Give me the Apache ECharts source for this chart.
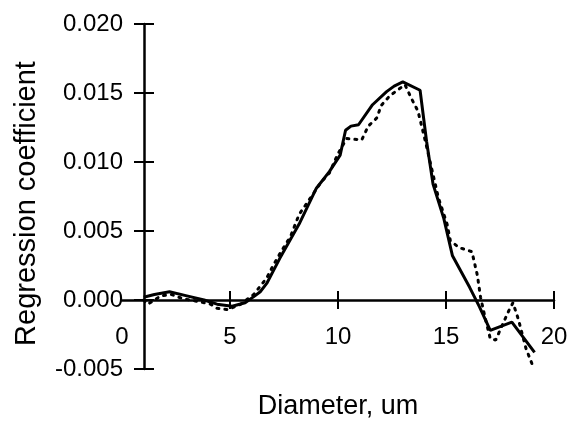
<!DOCTYPE html>
<html>
<head>
<meta charset="utf-8">
<script src="https://cdn.jsdelivr.net/npm/echarts@6/dist/echarts.min.js"></script>
<style>
    html, body { margin: 0; padding: 0; background: #fff; }
    #chart { width: 574px; height: 424px; }
</style>
</head>
<body>
<div id="chart"></div>
<script>
// diameter (um) / regression coefficient
const solidX = [1.0, 1.5, 2.2, 3.0, 3.8, 4.4, 5.1, 5.7, 6.15, 6.4, 6.7, 7.3, 8.2, 9.0, 9.6, 10.1, 10.35, 10.6, 10.95, 11.6, 12.25, 12.6, 13.0, 13.8, 14.1, 14.4, 14.9, 15.3, 16.1, 16.55, 17.05, 18.05, 19.1];
const solidY = [0.0002, 0.0004, 0.0006, 0.0003, 0.0, -0.0003, -0.00045, -0.0002, 0.0003, 0.0006, 0.0012, 0.003, 0.0055, 0.0081, 0.0093, 0.0105, 0.0123, 0.0126, 0.0127, 0.01415, 0.0151, 0.0155, 0.0158, 0.0152, 0.0115, 0.0084, 0.0059, 0.0032, 0.0009, -0.0005, -0.0022, -0.0016, -0.0038];

const dotX = [1.0, 1.2, 1.8, 2.3, 2.8, 3.5, 4.1, 4.4, 4.9, 5.5, 6.1, 6.3, 6.7, 7.0, 7.4, 7.8, 8.2, 8.55, 9.2, 9.6, 10.0, 10.4, 11.1, 11.4, 11.8, 12.0, 12.4, 13.1, 13.4, 13.7, 14.0, 14.65, 15.05, 15.2, 15.6, 16.2, 16.45, 16.6, 16.8, 17.05, 17.3, 17.9, 18.1, 18.35, 18.7, 19.0];
const dotY = [0.0, -0.0003, 0.0003, 0.0004, 0.0001, -0.0001, -0.0003, -0.0006, -0.0007, -0.0003, 0.0004, 0.0008, 0.0016, 0.0025, 0.0036, 0.0046, 0.0062, 0.007, 0.0085, 0.0092, 0.0106, 0.0117, 0.0116, 0.0126, 0.0132, 0.0141, 0.0148, 0.0156, 0.0146, 0.0137, 0.0118, 0.0074, 0.0055, 0.0043, 0.0038, 0.0035, 0.0018, 0.0002, -0.0012, -0.0028, -0.0029, -0.0008, -0.0002, -0.0014, -0.0035, -0.0047];

const xTicks = [5, 10, 15, 20];
const yMin = -0.005, yMax = 0.020, yStep = 0.005;

const font = "Liberation Sans";
const black = "#000";

const solidData = solidX.map((x, i) => [x, solidY[i]]);
const dotData = dotX.map((x, i) => [x, dotY[i]]);

const myChart = echarts.init(document.getElementById("chart"), null, { renderer: "canvas" });

const option = {
    animation: false,
    backgroundColor: "#fff",
    grid: { left: 122, right: 20, top: 24, bottom: 55, outerBoundsMode: "none" },
    xAxis: [
        {
            type: "value", min: 0, max: 20, interval: 5,
            axisLine: { show: true, onZero: true, lineStyle: { color: black, width: 2.5 } },
            axisTick: { show: true, length: 9, customValues: xTicks, lineStyle: { color: black, width: 2 } },
            // labels are measured from the grid bottom, so pull them up under the zero line
            axisLabel: { margin: -44, color: black, fontSize: 24, fontFamily: font },
            splitLine: { show: false },
            name: "Diameter, um",
            nameLocation: "middle",
            nameGap: 24,
            nameTextStyle: { color: black, fontSize: 27, fontFamily: font }
        },
        {
            // second copy only for the ticks on the inner side
            type: "value", min: 0, max: 20, interval: 5, position: "bottom",
            axisLine: { show: false, onZero: true, onZeroAxisIndex: 0 },
            axisTick: { show: true, inside: true, length: 9, customValues: xTicks, lineStyle: { color: black, width: 2 } },
            axisLabel: { show: false },
            splitLine: { show: false }
        }
    ],
    yAxis: [
        {
            type: "value", min: yMin, max: yMax, interval: yStep, position: "left", offset: -22,
            axisLine: { show: true, onZero: false, lineStyle: { color: black, width: 2.5 } },
            axisTick: { show: true, length: 10, lineStyle: { color: black, width: 2 } },
            axisLabel: {
                margin: 21, color: black, fontSize: 24, fontFamily: font,
                formatter: v => v.toFixed(3)
            },
            splitLine: { show: false },
            name: "Regression coefficient",
            nameLocation: "middle",
            nameGap: 103,
            nameTextStyle: { color: black, fontSize: 29, fontFamily: font, padding: [0, 14, 0, 0] }
        },
        {
            type: "value", min: yMin, max: yMax, interval: yStep, position: "left", offset: -22,
            axisLine: { show: false, onZero: false },
            axisTick: { show: true, inside: true, length: 10, lineStyle: { color: black, width: 2 } },
            axisLabel: { show: false },
            splitLine: { show: false }
        }
    ],
    series: [
        {
            name: "solid",
            type: "line",
            data: solidData,
            showSymbol: false,
            lineStyle: { color: black, width: 3 }
        },
        {
            name: "dotted",
            type: "line",
            data: dotData,
            showSymbol: false,
            lineStyle: { color: black, width: 3, type: [2, 6], cap: "round" }
        }
    ]
};

myChart.setOption(option);
</script>
</body>
</html>
